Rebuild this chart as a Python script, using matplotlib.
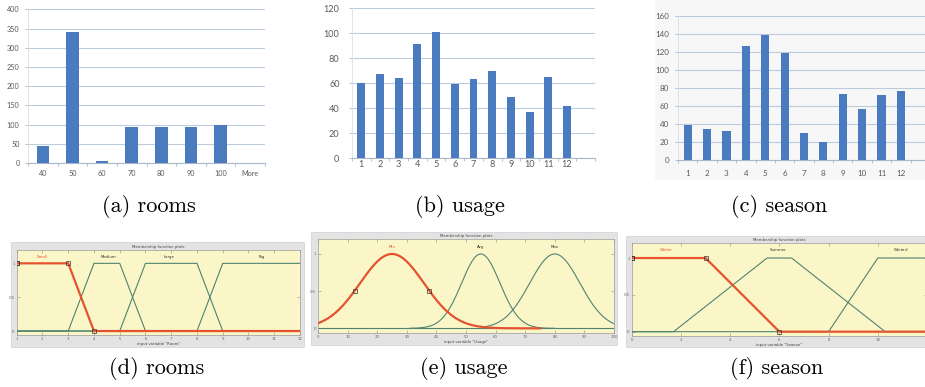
import numpy as np
import matplotlib.pyplot as plt
from matplotlib.patches import Rectangle

W, H = 925, 387  # figure size in pixels

# (a) rooms histogram
room_bins = ['40', '50', '60', '70', '80', '90', '100', 'More']
room_counts = [43, 340, 6, 93, 93, 94, 98, 0]

# (b) usage per month
usage_labels = ['1', '2', '3', '4', '5', '6', '7', '8', '9', '10', '11', '12']
usage_counts = [60, 67, 64, 91, 101, 59, 63, 70, 49, 37, 65, 42]

# (c) season per month
season_labels = ['1', '2', '3', '4', '5', '6', '7', '8', '9', '10', '11', '12']
season_counts = [39, 35, 32, 126, 139, 119, 30, 20, 73, 57, 72, 77]

# (d) room membership functions (trapezoids a,b,c,d)
room_mf_names = ['Small', 'Medium', 'Large', 'Big']
room_mf_pts = [[1, 1, 3, 4], [3, 4, 5, 6], [5, 6, 8, 9], [8, 9, 12, 12]]
room_label_x = [2.0, 4.55, 6.9, 10.5]

# (e) usage membership functions (gaussians)
usage_mf_names = ['Min', 'Avg', 'Max']
usage_mf_center = [25, 55, 80]
usage_mf_sigma = [10.8, 6.5, 8.5]
usage_mf_span = [(0, 75), (31, 80), (56, 100)]
usage_marker_x = [12.6, 37.5]

# (f) season membership functions
season_mf_names = ['Winter', 'Summer', 'Winter$_2$']
season_mf_pts = [[0, 0, 3, 6], [1.7, 5.5, 6.5, 10.3], [8, 10, 12, 12]]
season_label_x = [1.42, 5.95, 10.96]

BLUE = '#4a7bbf'
GRID = '#bccbdd'
AXC = '#a9b7c9'
TXT = '#5a5a5a'
YEL = '#faf6c8'
FRAME = '#e3e3e3'
MFG = '#4f8470'
RED = '#e5532e'

fig = plt.figure(figsize=(W / 100, H / 100), dpi=100)


def px_axes(x0, y0, x1, y1):
    # pixel box measured from top-left corner
    return fig.add_axes([x0 / W, 1 - y1 / H, (x1 - x0) / W, (y1 - y0) / H])


def px_rect(x0, y0, x1, y1, fc, ec='none'):
    r = Rectangle((x0 / W, 1 - y1 / H), (x1 - x0) / W, (y1 - y0) / H,
                  transform=fig.transFigure, facecolor=fc, edgecolor=ec, lw=0.5, zorder=-5)
    fig.patches.append(r)


def bar_panel(box, labels, counts, nslots, ymax, ystep, fs, xpad, ypad):
    ax = px_axes(*box)
    ax.patch.set_alpha(0)
    x = np.arange(len(labels))
    ax.bar(x, counts, width=0.42, color=BLUE, zorder=3)
    ax.set_xlim(-0.5, nslots - 0.5)
    ax.set_ylim(0, ymax)
    ax.set_yticks(np.arange(0, ymax + 1, ystep))
    ax.yaxis.grid(True, color=GRID, lw=0.8)
    ax.set_xticks(x)
    ax.set_xticklabels(labels)
    ax.set_xticks(np.arange(-0.5, nslots), minor=True)
    ax.tick_params(axis='x', which='major', length=0, pad=xpad, labelsize=fs, labelcolor=TXT)
    ax.tick_params(axis='x', which='minor', length=2.5, width=0.6, color=AXC)
    ax.tick_params(axis='y', length=2.5, width=0.6, color=AXC, pad=ypad, labelsize=fs, labelcolor=TXT)
    for s in ['top', 'right']:
        ax.spines[s].set_visible(False)
    ax.spines['bottom'].set_color(AXC)
    ax.spines['left'].set_color('#d8e0ea')
    ax.spines['bottom'].set_linewidth(0.8)
    ax.spines['left'].set_linewidth(0.6)
    for t in ax.get_xticklabels() + ax.get_yticklabels():
        t.set_fontfamily('Lato')
    return ax


def trap_line(p, lo, hi):
    a, b, c, d = p
    xs = [lo, a, b, c, d, hi]
    ys = [0, 0, 1, 1, 0, 0]
    if a == b:
        ys[0] = ys[1] = 1
    if c == d:
        ys[4] = ys[5] = 1
    return xs, ys


def mf_panel(frame, box, xlim, xticks, xlabel):
    px_rect(*frame, FRAME, '#d0d0d0')
    ax = px_axes(*box)
    ax.set_facecolor(YEL)
    ax.set_xlim(*xlim)
    ax.set_ylim(-0.06, 1.2)
    ax.set_xticks(xticks)
    ax.set_yticks([0, 0.5, 1])
    ax.set_yticklabels(['0', '0.5', '1'])
    ax.tick_params(direction='in', length=2, width=0.4, color='#888888', labelsize=2.8,
                   labelcolor='#666666', top=True, right=True, pad=1.5)
    for s in ax.spines.values():
        s.set_color('#9a9a9a')
        s.set_linewidth(0.5)
    ax.set_title('Membership function plots', fontsize=2.8, color='#444444', pad=1.5)
    ax.set_xlabel(xlabel, fontsize=2.8, color='#444444', labelpad=0.8)
    return ax


# ---- top row: histograms ----
bar_panel((28, 9.3, 265, 163), room_bins, room_counts, 8, 400, 50, 5.2, 5.0, 3.5)
bar_panel((352, 8.3, 595, 158), usage_labels, usage_counts, 13, 120, 20, 6.6, 1.5, 6.5)
px_rect(655, 0, 925, 180, '#f7f7f7')
bar_panel((678, 15.7, 930, 160.3), season_labels, season_counts, 13, 160, 20, 5.8, 7.0, 4.0)

# ---- bottom row: membership functions ----
axd = mf_panel((11, 242, 304, 347), (16.7, 249.8, 300, 335.1), (1, 12), range(1, 13), 'input variable "Room"')
for i, p in enumerate(room_mf_pts):
    xs, ys = trap_line(p, 1, 12)
    sel = i == 0
    axd.plot(xs, ys, color=RED if sel else MFG, lw=1.6 if sel else 0.8, zorder=4 if sel else 3)
    if sel:
        axd.plot(xs[1:5], ys[1:5], ls='none', marker='s', ms=2.6, mfc='none', mec='#333333', mew=0.5, zorder=5)
    axd.text(room_label_x[i], 1.1, room_mf_names[i], fontsize=2.8, ha='center', va='center',
             color=RED if sel else '#333333')

axe = mf_panel((311, 232, 617, 345), (318, 239.1, 614, 332.8), (0, 100), range(0, 101, 10), 'input variable "Usage"')
axe.plot([0, 100], [0, 0], color=MFG, lw=0.8, zorder=2)
for i in range(len(usage_mf_names)):
    lo, hi = usage_mf_span[i]
    xs = np.linspace(lo, hi, 200)
    ys = np.exp(-(xs - usage_mf_center[i]) ** 2 / (2 * usage_mf_sigma[i] ** 2))
    sel = i == 0
    axe.plot(xs, ys, color=RED if sel else MFG, lw=1.6 if sel else 0.8, zorder=4 if sel else 3)
    axe.text(usage_mf_center[i], 1.09, usage_mf_names[i], fontsize=2.8, ha='center', va='center',
             color=RED if sel else '#333333')
axe.plot(usage_marker_x, [0.5, 0.5], ls='none', marker='s', ms=2.6, mfc='none', mec='#333333', mew=0.5, zorder=5)

axf = mf_panel((626, 236, 930, 347), (631.7, 243.3, 927, 336.1), (0, 12), range(0, 13, 2), 'input variable "Season"')
for i, p in enumerate(season_mf_pts):
    xs, ys = trap_line(p, 0, 12)
    sel = i == 0
    axf.plot(xs, ys, color=RED if sel else MFG, lw=1.6 if sel else 0.8, zorder=4 if sel else 3)
    if sel:
        axf.plot(xs[1:5], ys[1:5], ls='none', marker='s', ms=2.6, mfc='none', mec='#333333', mew=0.5, zorder=5)
    axf.text(season_label_x[i], 1.11, season_mf_names[i], fontsize=2.8, ha='center', va='center',
             color=RED if sel else '#333333')

# ---- captions ----
caps = [('(a) rooms', 149, 206), ('(b) usage', 460, 206), ('(c) season', 779, 206),
        ('(d) rooms', 157, 368), ('(e) usage', 464, 368), ('(f) season', 777, 368)]
for txt, cx, cy in caps:
    fig.text(cx / W, 1 - cy / H, txt, fontsize=16, family='cmr10', ha='center', va='center')

fig.savefig('out.png', dpi=100)
